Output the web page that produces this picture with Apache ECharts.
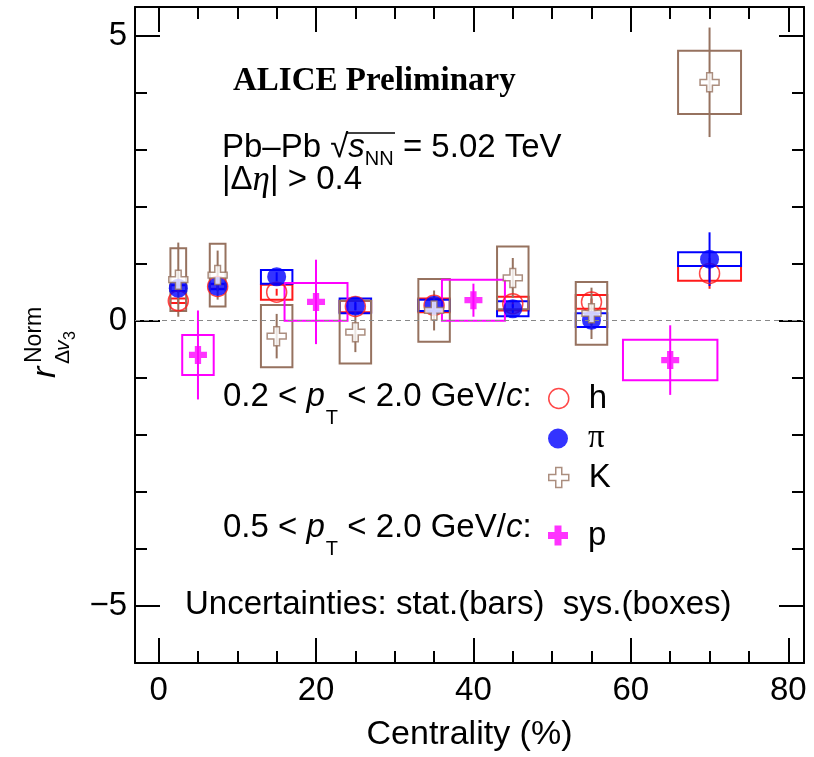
<!DOCTYPE html>
<html><head><meta charset="utf-8">
<script src="https://cdn.jsdelivr.net/npm/echarts@6/dist/echarts.min.js"></script>
<style>html,body{margin:0;padding:0;background:#fff}#c{width:814px;height:757px}</style>
</head><body><div id="c"></div>
<script>
// ---- data ----
const centralityBins = [[0,5],[5,10],[10,20],[20,30],[30,40],[40,50],[50,60],[60,80]];
const hValues  = [0.35, 0.60, 0.50, 0.25, 0.27, 0.30, 0.33, 0.83];
const hStat    = [0.06, 0.06, 0.06, 0.06, 0.06, 0.06, 0.06, 0.27];
const hSys     = [0.04, 0.04, 0.13, 0.10, 0.12, 0.12, 0.12, 0.13];
const piValues = [0.57, 0.60, 0.77, 0.26, 0.27, 0.21, 0.01, 1.08];
const piStat   = [0.08, 0.08, 0.08, 0.08, 0.08, 0.08, 0.08, 0.47];
const piSys    = [0.05, 0.05, 0.12, 0.13, 0.10, 0.13, 0.12, 0.12];
const kValues  = [0.72, 0.80, -0.27, -0.20, 0.18, 0.75, 0.13, 4.18];
const kStat    = [0.65, 0.43, 0.39, 0.35, 0.35, 0.35, 0.45, 0.96];
const kSys     = [0.55, 0.55, 0.545, 0.55, 0.55, 0.55, 0.55, 0.555];
const protonBins = [[0,10],[10,30],[30,50],[50,80]];
const pValues  = [-0.60, 0.33, 0.36, -0.69];
const pStat    = [0.78, 0.74, 0.29, 0.61];
const pSys     = [0.35, 0.33, 0.36, 0.355];
const xTickLabels = ['0','20','40','60','80'];
const yTickLabels = ['\u22125','0','5'];

// ---- style ----
const SANS = 'Liberation Sans';
const SERIF = 'Liberation Serif';
const RED = '#ff1a1a', BLUE = '#0000ff', BROWN = '#96725f', MAG = '#ff00ff';
const CROSS_OPEN = 'path://M7,0 H13 V7 H20 V13 H13 V20 H7 V13 H0 V7 H7 Z';
const CROSS_FILL = 'path://M6.5,0 H13.5 V6.5 H20 V13.5 H13.5 V20 H6.5 V13.5 H0 V6.5 H6.5 Z';
const FS = 33;

function centers(bins){ return bins.map(b => (b[0]+b[1])/2); }

function errSeries(name, bins, val, stat, sys, color){
  const cx = centers(bins);
  const data = bins.map((b,i) => [cx[i], val[i], stat[i], sys[i], (b[1]-b[0])*0.2]);
  return {
    type:'custom', name:name, data:data, encode:{x:0,y:1}, silent:true,
    renderItem:function(params, api){
      const x=api.value(0), y=api.value(1), st=api.value(2), sy=api.value(3), hw=api.value(4);
      const p1 = api.coord([x-hw, y+sy]), p2 = api.coord([x+hw, y-sy]);
      const b1 = api.coord([x, y+st]), b2 = api.coord([x, y-st]);
      return {type:'group', children:[
        {type:'rect', shape:{x:p1[0], y:p1[1], width:p2[0]-p1[0], height:p2[1]-p1[1]},
         style:{fill:'none', stroke:color, lineWidth:2}},
        {type:'line', shape:{x1:b1[0], y1:b1[1], x2:b2[0], y2:b2[1]},
         style:{stroke:color, lineWidth:2}}
      ]};
    }
  };
}
function markerSeries(name, bins, val, symbol, size, itemStyle){
  const cx = centers(bins);
  return {type:'scatter', name:name, data: cx.map((x,i)=>[x, val[i]]),
    symbol:symbol, symbolSize:size, itemStyle:itemStyle, silent:true};
}

const hMarker = markerSeries('h', centralityBins, hValues, 'circle', 20,
  {color:'rgba(0,0,0,0)', borderColor:RED, borderWidth:1.5});
hMarker.markLine = {silent:true, symbol:'none', label:{show:false},
  lineStyle:{type:[5,4], color:'#888', width:1}, data:[{yAxis:0}]};

const series = [
  errSeries('h sys', centralityBins, hValues, hStat, hSys, RED),
  hMarker,
  errSeries('pi sys', centralityBins, piValues, piStat, piSys, BLUE),
  markerSeries('\u03c0', centralityBins, piValues, 'circle', 19, {color:BLUE}),
  errSeries('K sys', centralityBins, kValues, kStat, kSys, BROWN),
  markerSeries('K', centralityBins, kValues, CROSS_OPEN, 19, {color:'#fff', borderColor:BROWN, borderWidth:1.5}),
  errSeries('p sys', protonBins, pValues, pStat, pSys, MAG),
  markerSeries('p', protonBins, pValues, CROSS_FILL, 18, {color:MAG})
];

const tickStyle = {color:'#000', width:2};
function xAx(pos, labels){
  return {type:'value', position:pos, min:-3, max:82, splitNumber:4,
    axisLine:{show:true, onZero:false, lineStyle:tickStyle},
    axisTick:{show:true, inside:true, length:25, lineStyle:tickStyle},
    minorTick:{show:true, splitNumber:4, length:12, lineStyle:tickStyle},
    splitLine:{show:false},
    axisLabel:{show:labels, showMinLabel:false, showMaxLabel:false, margin:11,
      fontSize:FS, fontFamily:SANS, color:'#000',
      formatter:function(v){ const i=[0,20,40,60,80].indexOf(v); return i>=0?xTickLabels[i]:''; }},
    name: labels ? 'Centrality (%)' : '', nameLocation:'middle', nameGap:55,
    nameTextStyle:{fontSize:34, fontFamily:SANS, color:'#000'}
  };
}
function yAx(pos, labels){
  return {type:'value', position:pos, min:-6, max:5.5, splitNumber:2,
    axisLine:{show:true, onZero:false, lineStyle:tickStyle},
    axisTick:{show:true, inside:true, length:25, lineStyle:tickStyle},
    minorTick:{show:true, splitNumber:5, length:12, lineStyle:tickStyle},
    splitLine:{show:false},
    axisLabel:{show:labels, showMinLabel:false, showMaxLabel:false, margin:8,
      fontSize:FS, fontFamily:SANS, color:'#000',
      formatter:function(v){ const i=[-5,0,5].indexOf(v); return i>=0?yTickLabels[i]:''; }}
  };
}

function legendRow(name, top, icon, itemStyle, fam){
  return {show:true, left:548, top:top, padding:0, orient:'horizontal', itemWidth:20, itemHeight:20,
    selectedMode:false, itemGap:0,
    textStyle:{fontSize:FS, fontFamily:fam||SANS, color:'#000', padding:[0,0,0,15]},
    data:[{name:name, icon:icon, itemStyle:itemStyle}]};
}

const richBase = {
  n:{fontSize:FS, fontFamily:SANS, lineHeight:38, verticalAlign:'top', fill:'#000'},
  i:{fontSize:FS, fontFamily:SANS, fontStyle:'italic', lineHeight:38, verticalAlign:'top', fill:'#000'},
  s:{fontSize:20, fontFamily:SANS, lineHeight:22, padding:[28,0,0,1], verticalAlign:'top', fill:'#000'},
  ss:{fontSize:20, fontFamily:SANS, lineHeight:22, padding:[18,0,0,0], verticalAlign:'top', fill:'#000'},
  g:{fontSize:35, fontFamily:SERIF, fontStyle:'italic', lineHeight:38, verticalAlign:'top', fill:'#000'}
};

const graphic = [
  {type:'text', x:233, y:81, style:{text:'ALICE Preliminary', fontSize:33, fontWeight:'bold',
    fontFamily:SERIF, fill:'#000', verticalAlign:'middle'}},
  {type:'text', x:222, y:131, style:{text:'{n|Pb\u2013Pb }{n|\u221a}{i|s}{ss|NN}{n| = 5.02 TeV}', rich:richBase}},
  {type:'line', shape:{x1:347, y1:133, x2:395, y2:133}, style:{stroke:'#000', lineWidth:1.5}},
  {type:'text', x:222, y:163, style:{text:'{n||\u0394}{g|\u03b7}{n|| > 0.4}', rich:richBase}},
  {type:'text', x:223, y:380, style:{text:'{n|0.2 < }{i|p}{s|T}{n| < 2.0 GeV/}{i|c}{n|:}', rich:richBase}},
  {type:'text', x:223, y:511, style:{text:'{n|0.5 < }{i|p}{s|T}{n| < 2.0 GeV/}{i|c}{n|:}', rich:richBase}},
  {type:'text', x:185, y:605, style:{text:'Uncertainties: stat.(bars)  sys.(boxes)', fontSize:FS,
    fontFamily:SANS, fill:'#000', verticalAlign:'middle'}},
  {type:'group', x:56, y:378, rotation:Math.PI/2, children:[
    {type:'text', x:0, y:7, style:{text:'r', fontSize:34, fontStyle:'italic', fontFamily:SANS, fill:'#000', verticalAlign:'bottom'}},
    {type:'text', x:15, y:-10, style:{text:'Norm', fontSize:23, fontFamily:SANS, fill:'#000', verticalAlign:'bottom'}},
    {type:'text', x:14, y:18, style:{text:'\u0394', fontSize:21, fontFamily:SANS, fill:'#000', verticalAlign:'bottom'}},
    {type:'text', x:27, y:18, style:{text:'v', fontSize:21, fontStyle:'italic', fontFamily:SANS, fill:'#000', verticalAlign:'bottom'}},
    {type:'text', x:38, y:23, style:{text:'3', fontSize:16, fontFamily:SANS, fill:'#000', verticalAlign:'bottom'}}
  ]}
];

const chart = echarts.init(document.getElementById('c'), null, {renderer:'canvas'});
chart.setOption({
  animation:false,
  backgroundColor:'#fff',
  grid:{left:135, right:10, top:7, bottom:92, containLabel:false},
  xAxis:[xAx('bottom', true), xAx('top', false)],
  yAxis:[yAx('left', true), yAx('right', false)],
  legend:[
    legendRow('h', 382, 'circle', {color:'rgba(0,0,0,0)', borderColor:RED, borderWidth:1.5}),
    legendRow('\u03c0', 422, 'circle', {color:BLUE}, SERIF),
    legendRow('K', 461, CROSS_OPEN, {color:'#fff', borderColor:BROWN, borderWidth:1.5}),
    legendRow('p', 519, CROSS_FILL, {color:MAG})
  ],
  graphic:graphic,
  series:series
});
</script></body></html>
